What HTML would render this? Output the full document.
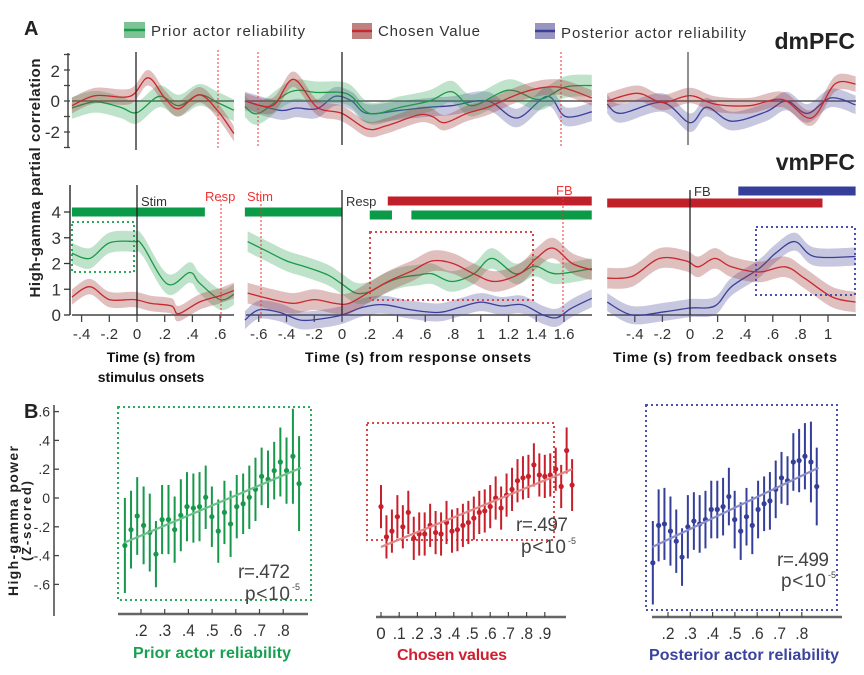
<!DOCTYPE html>
<html><head><meta charset="utf-8"><style>
html,body{margin:0;padding:0;background:#fff;}
svg{display:block;font-family:"Liberation Sans",sans-serif;}
</style></head><body>
<svg id="fig" width="864" height="675" viewBox="0 0 864 675" xmlns="http://www.w3.org/2000/svg">
<rect width="864" height="675" fill="#fff"/>
<text x="24" y="35" font-size="20" font-weight="bold" fill="#222">A</text>
<text x="24" y="418" font-size="20" font-weight="bold" fill="#222">B</text>
<g>
<rect x="124" y="22" width="21" height="16" fill="#7cc495"/><line x1="124" y1="30" x2="145" y2="30" stroke="#1a9a48" stroke-width="2.5"/>
<text x="151" y="36" font-size="15" fill="#333" textLength="154">Prior actor reliability</text>
<rect x="352" y="23" width="20" height="16" fill="#c08080"/><line x1="352" y1="31" x2="372" y2="31" stroke="#c8282e" stroke-width="2.5"/>
<text x="378" y="36" font-size="15" fill="#333" textLength="102">Chosen Value</text>
<rect x="535" y="23" width="20" height="16" fill="#9896c0"/><line x1="535" y1="31" x2="555" y2="31" stroke="#3a3f9a" stroke-width="2.5"/>
<text x="561" y="38" font-size="15" fill="#333" textLength="185">Posterior actor reliability</text>
</g>
<text x="855" y="49" font-size="23" font-weight="bold" fill="#222" text-anchor="end">dmPFC</text>
<text x="855" y="170" font-size="23" font-weight="bold" fill="#222" text-anchor="end">vmPFC</text>
<text transform="translate(40,178) rotate(-90)" font-size="15" font-weight="bold" fill="#222" text-anchor="middle" textLength="239">High-gamma partial correlation</text>
<text transform="translate(18,521) rotate(-90)" font-size="14" font-weight="bold" fill="#222" text-anchor="middle" textLength="150">High-gamma power</text>
<text transform="translate(31,521) rotate(-90)" font-size="13" font-weight="bold" fill="#222" text-anchor="middle" textLength="80">(Z-scored)</text>
<g id="layer"></g>
</svg>
<script>
// ---------- Panel A data (time in s, value) ----------
const dmStimGreenT=[-0.47,-0.3,-0.12,0,0.16,0.3,0.45,0.58,0.7];
const dmStimGreenV=[-0.45,-0.05,-0.4,-0.75,0.3,-0.3,0.4,-0.1,-0.6];
const dmStimRedT=[-0.47,-0.3,-0.05,0.08,0.2,0.3,0.45,0.58,0.7];
const dmStimRedV=[-0.3,0.35,0.3,1.5,0.2,-0.5,0.4,-0.6,-2.1];
const dmRespGreenT=[-0.7,-0.6,-0.37,-0.18,0.04,0.2,0.42,0.63,0.79,0.94,1.2,1.42,1.61,1.8];
const dmRespGreenV=[-0.35,-0.8,0.6,0.55,0.45,-0.8,-0.4,0,0.6,-0.3,0.7,0.1,0.9,1.0];
const dmRespRedT=[-0.7,-0.5,-0.35,-0.18,0,0.18,0.32,0.55,0.65,0.74,0.9,1.05,1.32,1.56,1.8];
const dmRespRedV=[0,-0.3,1.4,-0.4,-0.8,-1.8,-1.6,-0.9,-1.0,-1.4,-0.8,-0.4,0.6,0.9,0.2];
const dmRespBlueT=[-0.7,-0.45,-0.33,-0.18,-0.05,0.07,0.18,0.42,0.63,0.79,1.05,1.26,1.48,1.61,1.8];
const dmRespBlueV=[0,-0.6,-0.45,-0.5,0.3,0,-0.8,-0.6,-0.4,-0.3,0,-1.1,0.3,-1.0,-0.7];
const dmFbRedT=[-0.6,-0.38,-0.2,0,0.18,0.43,0.67,0.88,1.05,1.2];
const dmFbRedV=[0,0.5,-0.1,0.35,-0.2,-0.3,0.1,-1.1,1.1,1.1];
const dmFbBlueT=[-0.6,-0.5,-0.2,0,0.12,0.3,0.55,0.7,0.85,1.02,1.2];
const dmFbBlueV=[-0.2,-0.8,-0.1,-1.4,-0.4,-1.3,-0.7,0,-0.8,0.2,-0.25];
const vmStimGreenT=[-0.47,-0.34,-0.2,-0.02,0.04,0.22,0.38,0.45,0.6,0.7];
const vmStimGreenV=[2.4,2.2,2.8,2.85,2.7,1.2,1.65,1.25,0.6,0.8];
const vmStimRedT=[-0.47,-0.34,-0.2,-0.02,0.1,0.25,0.3,0.45,0.6,0.7];
const vmStimRedV=[0.7,1.1,0.6,0.6,0.45,0.35,0.05,0.5,0.75,0.95];
const vmRespGreenT=[-0.68,-0.55,-0.4,-0.25,-0.1,0,0.1,0.2,0.3,0.42,0.55,0.65,0.79,0.95,1.08,1.25,1.39,1.54,1.8];
const vmRespGreenV=[2.85,2.5,2.1,1.85,1.55,1.2,0.85,0.9,1.2,1.45,1.55,1.6,1.3,1.6,2.2,1.6,1.9,1.6,1.8];
const vmRespRedT=[-0.68,-0.5,-0.35,-0.2,-0.05,0.05,0.2,0.35,0.5,0.65,0.8,0.95,1.1,1.28,1.4,1.52,1.66,1.8];
const vmRespRedV=[0.85,0.6,0.45,0.6,0.45,0.45,0.9,1.35,1.7,2.1,2.0,1.6,1.3,1.6,2.2,2.6,2.0,1.75];
const vmRespBlueT=[-0.7,-0.6,-0.45,-0.3,-0.15,0,0.15,0.3,0.5,0.7,0.85,1.0,1.15,1.3,1.45,1.55,1.65,1.8];
const vmRespBlueV=[-0.2,0.2,0.1,-0.2,-0.15,0,0.3,0.4,0.2,0.1,0.3,0.5,0.35,0.4,0.0,-0.1,0.25,0.65];
const vmFbRedT=[-0.6,-0.42,-0.22,-0.03,0.06,0.18,0.3,0.5,0.69,0.83,1.03,1.2];
const vmFbRedV=[1.43,1.5,2.2,2.1,1.87,2.2,1.87,1.67,1.87,1.43,0.7,0.5];
const vmFbBlueT=[-0.6,-0.42,-0.18,0,0.18,0.3,0.5,0.62,0.76,0.9,1.2];
const vmFbBlueV=[0.5,0,0.13,0.27,0.35,1.1,1.8,2.4,2.85,2.27,2.27];
// ---------- Panel B data ----------
const priorX=[0.132,0.158,0.184,0.211,0.237,0.263,0.289,0.316,0.342,0.368,0.394,0.421,0.447,0.473,0.499,0.526,0.552,0.578,0.604,0.631,0.657,0.683,0.709,0.736,0.762,0.788,0.814,0.841,0.867];
const priorMean=[-0.33,-0.22,-0.125,-0.19,-0.24,-0.39,-0.15,-0.15,-0.22,-0.12,-0.06,-0.07,-0.06,0.005,-0.13,-0.23,-0.1,-0.18,-0.06,-0.04,0.005,0.06,0.15,0.13,0.19,0.25,0.19,0.29,0.10];
const priorErr=[0.33,0.27,0.27,0.27,0.27,0.23,0.24,0.24,0.23,0.25,0.24,0.24,0.24,0.22,0.21,0.22,0.22,0.23,0.22,0.21,0.22,0.22,0.2,0.2,0.2,0.24,0.23,0.33,0.33];
const valueX=[0.0,0.03,0.06,0.09,0.12,0.15,0.18,0.21,0.24,0.27,0.30,0.33,0.36,0.39,0.42,0.45,0.48,0.51,0.54,0.57,0.60,0.63,0.66,0.69,0.72,0.75,0.78,0.81,0.84,0.87,0.90,0.93,0.96,0.99,1.02,1.05];
const valueMean=[-0.06,-0.27,-0.23,-0.13,-0.2,-0.1,-0.28,-0.25,-0.25,-0.19,-0.24,-0.25,-0.17,-0.23,-0.22,-0.19,-0.17,-0.14,-0.1,-0.09,-0.06,0,-0.07,0.02,0.06,0.12,0.14,0.15,0.23,0.16,0.15,0.16,0.2,0.08,0.33,0.09];
const valueErr=[0.15,0.15,0.15,0.15,0.15,0.15,0.15,0.15,0.15,0.15,0.15,0.15,0.15,0.15,0.15,0.15,0.15,0.15,0.15,0.15,0.15,0.15,0.15,0.15,0.15,0.15,0.15,0.15,0.15,0.15,0.15,0.15,0.15,0.15,0.16,0.18];
const postX=[0.132,0.158,0.184,0.211,0.237,0.263,0.289,0.316,0.342,0.368,0.394,0.421,0.447,0.473,0.499,0.526,0.552,0.578,0.604,0.631,0.657,0.683,0.709,0.736,0.762,0.788,0.814,0.841,0.867];
const postMean=[-0.45,-0.19,-0.18,-0.23,-0.3,-0.41,-0.2,-0.16,-0.18,-0.15,-0.08,-0.08,-0.06,0.01,-0.15,-0.23,-0.13,-0.19,-0.08,-0.04,-0.02,0.06,0.14,0.12,0.25,0.26,0.29,0.25,0.08];
const postErr=[0.29,0.25,0.25,0.24,0.22,0.2,0.22,0.2,0.2,0.2,0.2,0.2,0.2,0.2,0.2,0.2,0.2,0.2,0.2,0.19,0.2,0.2,0.18,0.17,0.2,0.22,0.23,0.28,0.27];
const priorFit=[-0.31,0.21], valueFit=[-0.34,0.2], postFit=[-0.34,0.21];
const stimTicks=[-0.4,-0.2,0,0.2,0.4,0.6], stimTickLabels=["-.4","-.2","0",".2",".4",".6"];
const respTicks=[-0.6,-0.4,-0.2,0,0.2,0.4,0.6,0.8,1,1.2,1.4,1.6], respTickLabels=["-.6","-.4","-.2","0",".2",".4",".6",".8","1","1.2","1.4","1.6"];
const fbTicks=[-0.4,-0.2,0,0.2,0.4,0.6,0.8,1], fbTickLabels=["-.4","-.2","0",".2",".4",".6",".8","1"];
const bYTicks=[0.6,0.4,0.2,0,-0.2,-0.4,-0.6], bYTickLabels=[".6",".4",".2","0","-.2","-.4","-.6"];

const NS="http://www.w3.org/2000/svg";
const layer=document.getElementById('layer');
function mk(tag,attrs,parent){const e=document.createElementNS(NS,tag);for(const k in attrs)e.setAttribute(k,attrs[k]);(parent||layer).appendChild(e);return e;}
const PX={stim:{x0:137,k:138.5,a:72,b:234},resp:{x0:342,k:138.75,a:246,b:592},fb:{x0:690,k:138,a:607,b:856}};
const ROW={dm:{y0:101,k:15.5},vm:{y0:315,k:25.75}};
const C={g:{line:'#1a9a48',band:'rgba(60,170,95,0.33)'},r:{line:'#c8282e',band:'rgba(160,60,60,0.33)'},b:{line:'#3a3f9a',band:'rgba(80,80,160,0.32)'}};
function crPath(pts,move){let d=move?`M${pts[0][0].toFixed(1)},${pts[0][1].toFixed(1)}`:`L${pts[0][0].toFixed(1)},${pts[0][1].toFixed(1)}`;
 for(let i=0;i<pts.length-1;i++){const p0=pts[Math.max(0,i-1)],p1=pts[i],p2=pts[i+1],p3=pts[Math.min(pts.length-1,i+2)];
  const c1=[p1[0]+(p2[0]-p0[0])/6,p1[1]+(p2[1]-p0[1])/6],c2=[p2[0]-(p3[0]-p1[0])/6,p2[1]-(p3[1]-p1[1])/6];
  d+=`C${c1[0].toFixed(1)},${c1[1].toFixed(1)} ${c2[0].toFixed(1)},${c2[1].toFixed(1)} ${p2[0].toFixed(1)},${p2[1].toFixed(1)}`;}
 return d;}
function series(px,row,T,V,hw,col,nm){
 const X=t=>px.x0+t*px.k, Y=v=>row.y0-v*row.k;
 const up=T.map((t,i)=>[X(t),Y(V[i]+hw)]), lo=T.map((t,i)=>[X(t),Y(V[i]-hw)]).reverse();
 const band=mk('path',{d:crPath(up,true)+crPath(lo,false)+'Z',fill:C[col].band});
 
 
 const ln=mk('path',{d:crPath(T.map((t,i)=>[X(t),Y(V[i])]),true),fill:'none',stroke:C[col].line,'stroke-width':1.3});
 
 
}
function vline(x,y1,y2,color,dash,nm,w){const l=mk('line',{x1:x,y1:y1,x2:x,y2:y2,stroke:color,'stroke-width':w||1.3,'stroke-dasharray':dash||'none'});
 
 }
function hline(x1,x2,y,color,w,nm){const l=mk('line',{x1:x1,y1:y,x2:x2,y2:y,stroke:color,'stroke-width':w});
 
 }
function txt(x,y,s,size,fill,anchor,nm,extra){const t=mk('text',Object.assign({x:x,y:y,'font-size':size,fill:fill,'text-anchor':anchor||'start'},extra||{}));t.textContent=s;
 
 return t;}
function bar(px,t1,t2,y,color,nm){const r=mk('rect',{x:px.x0+t1*px.k,y:y-4.5,width:(t2-t1)*px.k,height:9,fill:color});
 
 }
function box(x,y,w,h,color,nm){const r=mk('rect',{x:x,y:y,width:w,height:h,fill:'none',stroke:color,'stroke-width':2,'stroke-dasharray':'2 3'});
 
 }

// dmPFC row
for(const k of ['stim','resp','fb']) hline(PX[k].a,PX[k].b,101,'#555',1.5,'dm-zero-line-'+k);
series(PX.stim,ROW.dm,dmStimGreenT,dmStimGreenV,0.7,'g','dm-stim-prior');
series(PX.stim,ROW.dm,dmStimRedT,dmStimRedV,0.5,'r','dm-stim-value');
series(PX.resp,ROW.dm,dmRespBlueT,dmRespBlueV,0.6,'b','dm-resp-posterior');
series(PX.resp,ROW.dm,dmRespGreenT,dmRespGreenV,0.7,'g','dm-resp-prior');
series(PX.resp,ROW.dm,dmRespRedT,dmRespRedV,0.5,'r','dm-resp-value');
series(PX.fb,ROW.dm,dmFbBlueT,dmFbBlueV,0.6,'b','dm-fb-posterior');
series(PX.fb,ROW.dm,dmFbRedT,dmFbRedV,0.5,'r','dm-fb-value');
vline(136,52,150,'#222',null,'dm-stim-onset');
vline(218,50,148,'#e33','2 2','dm-resp-marker',1);
vline(258,52,148,'#e33','2 2','dm-stim-marker',1);
vline(561,52,148,'#e33','2 2','dm-fb-marker',1);
vline(342,52,145,'#222',null,'dm-resp-onset');
vline(688,52,145,'#555',null,'dm-fb-onset');
// dm y axis
vline(68,53,147,'#444',null,'dm-y-axis',1.5);
for(let v=-3;v<=3;v++){hline(64,70,101-v*15.5,'#444',1.3,'dm-y-tick');}
txt(60,77,'2',17,'#333','end','dm-y-label');txt(60,107,'0',17,'#333','end','dm-y-label');txt(60,138,'-2',17,'#333','end','dm-y-label');

// vmPFC row
vline(70,185,315,'#333',null,'vm-y-axis',1.5);
for(let v=0;v<=4;v++){hline(64,70,315-v*25.75,'#333',1.3,'vm-y-tick');txt(61,321-v*25.75,String(v),17,'#333','end','vm-y-label');}
for(const k of ['stim','resp','fb']) hline(PX[k].a,PX[k].b,315,'#444',1.5,'vm-x-axis-'+k);
function ticks(px,T,L,nm){T.forEach((t,i)=>{const x=px.x0+t*px.k;vline(x,315,322,'#444',null,nm+'-tick',1.3);txt(x,339,L[i],15,'#333','middle',nm+'-tick-label');});}
ticks(PX.stim,stimTicks,stimTickLabels,'stim');ticks(PX.resp,respTicks,respTickLabels,'resp');ticks(PX.fb,fbTicks,fbTickLabels,'fb');
series(PX.stim,ROW.vm,vmStimGreenT,vmStimGreenV,0.4,'g','vm-stim-prior');
series(PX.stim,ROW.vm,vmStimRedT,vmStimRedV,0.3,'r','vm-stim-value');
series(PX.resp,ROW.vm,vmRespBlueT,vmRespBlueV,0.35,'b','vm-resp-posterior');
series(PX.resp,ROW.vm,vmRespGreenT,vmRespGreenV,0.4,'g','vm-resp-prior');
series(PX.resp,ROW.vm,vmRespRedT,vmRespRedV,0.4,'r','vm-resp-value');
series(PX.fb,ROW.vm,vmFbBlueT,vmFbBlueV,0.35,'b','vm-fb-posterior');
series(PX.fb,ROW.vm,vmFbRedT,vmFbRedV,0.4,'r','vm-fb-value');
bar(PX.stim,-0.47,0.49,212,'#0a9a48','sig-bar-stim-prior');
bar(PX.resp,-0.7,0,212,'#0a9a48','sig-bar-resp-prior-1');
bar(PX.resp,0.2,0.36,215,'#0a9a48','sig-bar-resp-prior-2');
bar(PX.resp,0.5,1.8,215,'#0a9a48','sig-bar-resp-prior-3');
bar(PX.resp,0.33,1.8,201,'#c0202a','sig-bar-resp-value');
bar(PX.fb,-0.6,0.96,203,'#c0202a','sig-bar-fb-value');
bar(PX.fb,0.35,1.2,191,'#353f9a','sig-bar-fb-posterior');
box(72,222,62,50,'#2aaa5a','window-box-prior');
box(370,232,163,68,'#d84848','window-box-value');
box(756,227,99,68,'#4a50b0','window-box-posterior');
vline(137,185,315,'#222',null,'vm-stim-onset');
vline(221,200,318,'#e33','2 2','vm-resp-marker',1);
vline(261,200,318,'#e33','2 2','vm-stim-marker',1);
vline(342,190,315,'#222',null,'vm-resp-onset');
vline(563,198,318,'#e33','2 2','vm-fb-marker',1);
vline(690,190,315,'#222',null,'vm-fb-onset');
txt(141,206,'Stim',13,'#333','start','stim-label');
txt(205,201,'Resp',13,'#e33','start','resp-label-red');
txt(247,201,'Stim',13,'#e33','start','stim-label-red');
txt(346,206,'Resp',13,'#333','start','resp-label');
txt(556,195,'FB',13,'#e33','start','fb-label-red');
txt(694,196,'FB',13,'#333','start','fb-label');
txt(151,362,'Time (s) from',14,'#111','middle','stim-x-title',{'font-weight':'bold'});
txt(151,382,'stimulus onsets',14,'#111','middle','stim-x-title-2',{'font-weight':'bold'});
txt(418,362,'Time (s) from response onsets',14,'#111','middle','resp-x-title',{'font-weight':'bold',textLength:226});
txt(725,362,'Time (s) from feedback onsets',14,'#111','middle','fb-x-title',{'font-weight':'bold',textLength:224});

// Panel B
const BY=v=>498-v*144;
vline(54,405,616,'#444',null,'b-y-axis',1.5);
bYTicks.forEach((v,i)=>{hline(54,59,BY(v),'#444',1.3,'b-y-tick');txt(50,BY(v)+5,bYTickLabels[i],14,'#333','end','b-y-tick-label');});
function scatter(X,M,E,fit,fx0,fx1,sx,color,lineCol,nm){
 X.forEach((x,i)=>{const px=sx(x);
  const l=mk('line',{x1:px,y1:BY(M[i]-E[i]),x2:px,y2:BY(M[i]+E[i]),stroke:color,'stroke-width':2});
  
  
  const c=mk('circle',{cx:px,cy:BY(M[i]),r:2.6,fill:color});
  
  });
 const f=mk('line',{x1:sx(fx0),y1:BY(fit[0]),x2:sx(fx1),y2:BY(fit[1]),stroke:lineCol,'stroke-width':2.2});
 
 }
function baxis(y,x1,x2,T,L,sx,nm){hline(x1,x2,y,'#666',2.5,nm+'-x-axis');T.forEach((t,i)=>{vline(sx(t),y-5,y,'#444',null,nm+'-x-tick',1.2);
 const ex=L[i].length>1?{textLength:L[i].length*6.5,lengthAdjust:'spacingAndGlyphs'}:{};
 txt(sx(t),y+22,L[i],17,'#333','middle',nm+'-x-tick-label',ex);});}
const sx1=v=>141+(v-0.2)*237, sx2=v=>381+v*182, sx3=v=>668+(v-0.2)*223;
box(118,407,193,193,'#2aaa5a','b-prior-box');
box(367,423,187,117,'#d84848','b-value-box');
box(646,405,191,205,'#4a50b0','b-posterior-box');
scatter(priorX,priorMean,priorErr,priorFit,0.13,0.875,sx1,'#17984a','#6cc08a','b-prior');
scatter(valueX,valueMean,valueErr,valueFit,0.0,1.05,sx2,'#c8202a','#e08888','b-value');
scatter(postX,postMean,postErr,postFit,0.13,0.875,sx3,'#353f9a','#8a8ec8','b-posterior');
baxis(614,118,308,[0.2,0.3,0.4,0.5,0.6,0.7,0.8],[".2",".3",".4",".5",".6",".7",".8"],sx1,'b-prior');
baxis(617,376,566,[0,0.1,0.2,0.3,0.4,0.5,0.6,0.7,0.8,0.9],["0",".1",".2",".3",".4",".5",".6",".7",".8",".9"],sx2,'b-value');
baxis(617,652,842,[0.2,0.3,0.4,0.5,0.6,0.7,0.8],[".2",".3",".4",".5",".6",".7",".8"],sx3,'b-posterior');
txt(290,578,'r=.472',19,'#444','end','b-prior-r',{textLength:52});
txt(290,600,'p<10',19,'#444','end','b-prior-p',{textLength:45});txt(292,590,'-5',9,'#444','start','b-prior-exp');
txt(568,531,'r=.497',19,'#444','end','b-value-r',{textLength:52});
txt(566,553,'p<10',19,'#444','end','b-value-p',{textLength:45});txt(568,544,'-5',9,'#444','start','b-value-exp');
txt(829,566,'r=.499',19,'#444','end','b-posterior-r',{textLength:52});
txt(826,587,'p<10',19,'#444','end','b-posterior-p',{textLength:45});txt(828,578,'-5',9,'#444','start','b-posterior-exp');
txt(212,658,'Prior actor reliability',16,'#17a050','middle','b-prior-x-title',{'font-weight':'bold',textLength:158});
txt(452,660,'Chosen values',16,'#d02030','middle','b-value-x-title',{'font-weight':'bold',textLength:110});
txt(744,660,'Posterior actor reliability',16,'#3a44a0','middle','b-posterior-x-title',{'font-weight':'bold',textLength:190});
</script>
</body></html>
